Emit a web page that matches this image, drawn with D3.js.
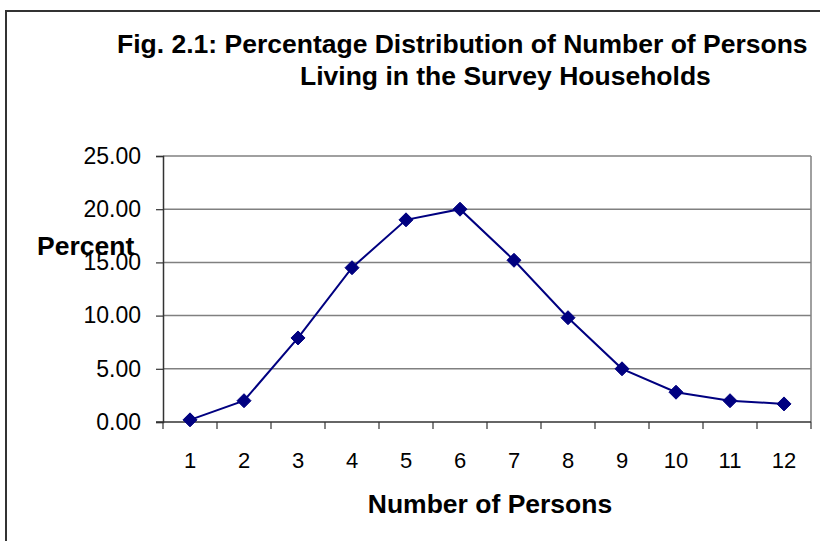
<!DOCTYPE html>
<html>
<head>
<meta charset="utf-8">
<script src="https://cdn.jsdelivr.net/npm/d3@7"></script>
<style>
  html, body { margin: 0; padding: 0; background: #fff; }
  svg { display: block; font-family: Arial, "Liberation Sans", sans-serif; }
</style>
</head>
<body>
<svg id="chart" width="820" height="541"></svg>
<script>
// Household size categories and share of households (%)
const persons = ["1", "2", "3", "4", "5", "6", "7", "8", "9", "10", "11", "12"];
const percent = [0.2, 2.0, 7.9, 14.5, 19.0, 20.0, 15.2, 9.8, 5.0, 2.8, 2.0, 1.7];
const yTicks = [0, 5, 10, 15, 20, 25];

const titleLines = [
  "Fig. 2.1: Percentage Distribution of Number of Persons",
  "Living in the Survey Households"
];

const svg = d3.select("#chart");

// outer chart frame
svg.append("rect")
  .attr("x", 6).attr("y", 11)
  .attr("width", 830).attr("height", 560)
  .attr("fill", "none")
  .attr("stroke", "#333")
  .attr("stroke-width", 2);

const plot = { left: 163, right: 811, top: 156, bottom: 422 };

const x = d3.scaleBand()
  .domain(persons)
  .range([plot.left, plot.right])
  .paddingInner(0).paddingOuter(0);

const y = d3.scaleLinear()
  .domain([0, 25])
  .range([plot.bottom, plot.top]);

// horizontal gridlines
svg.append("g")
  .selectAll("line")
  .data(yTicks.filter(d => d > 0))
  .join("line")
  .attr("x1", plot.left).attr("x2", plot.right)
  .attr("y1", d => y(d)).attr("y2", d => y(d))
  .attr("stroke", "#808080")
  .attr("stroke-width", 1.5);

// right edge of plot area
svg.append("line")
  .attr("x1", plot.right).attr("x2", plot.right)
  .attr("y1", plot.top).attr("y2", plot.bottom)
  .attr("stroke", "#808080")
  .attr("stroke-width", 1.5);

// y axis
const yAxis = svg.append("g")
  .attr("transform", `translate(${plot.left},0)`)
  .call(d3.axisLeft(y).tickValues(yTicks).tickFormat(d3.format(".2f")).tickSize(7).tickPadding(15));
yAxis.select(".domain").attr("stroke", "#333").attr("stroke-width", 1.5);
yAxis.selectAll(".tick line").attr("stroke", "#333").attr("stroke-width", 1.2);
yAxis.selectAll("text")
  .attr("font-size", 23)
  .attr("fill", "#000")
  .attr("font-family", "Arial, 'Liberation Sans', sans-serif");

// x axis with ticks on category boundaries
const xAxisG = svg.append("g")
  .attr("transform", `translate(0,${plot.bottom})`);
xAxisG.append("line")
  .attr("x1", plot.left - 7).attr("x2", plot.right)
  .attr("y1", 0).attr("y2", 0)
  .attr("stroke", "#333").attr("stroke-width", 1.5);
const bounds = persons.map(p => x(p)).concat([x(persons[persons.length - 1]) + x.bandwidth()]);
xAxisG.selectAll("line.tk")
  .data(bounds)
  .join("line")
  .attr("class", "tk")
  .attr("x1", d => d).attr("x2", d => d)
  .attr("y1", 0).attr("y2", 7)
  .attr("stroke", "#333").attr("stroke-width", 1.2);
xAxisG.selectAll("text")
  .data(persons)
  .join("text")
  .attr("x", d => x(d) + x.bandwidth() / 2)
  .attr("y", 46)
  .attr("text-anchor", "middle")
  .attr("font-size", 22)
  .attr("fill", "#000")
  .text(d => d);

// data line
const line = d3.line()
  .x((d, i) => x(persons[i]) + x.bandwidth() / 2)
  .y(d => y(d));

svg.append("path")
  .datum(percent)
  .attr("d", line)
  .attr("fill", "none")
  .attr("stroke", "#000080")
  .attr("stroke-width", 2);

// diamond markers
svg.append("g")
  .selectAll("path")
  .data(percent)
  .join("path")
  .attr("transform", (d, i) => `translate(${x(persons[i]) + x.bandwidth() / 2},${y(d)})`)
  .attr("d", "M0,-7L7,0L0,7L-7,0Z")
  .attr("fill", "#000080")
  .attr("stroke", "#000080")
  .attr("stroke-width", 1);

// title
svg.append("text")
  .attr("x", 117).attr("y", 53)
  .attr("font-size", 26.5).attr("font-weight", "bold")
  .attr("fill", "#000")
  .text(titleLines[0]);
svg.append("text")
  .attr("x", 300).attr("y", 85)
  .attr("font-size", 26.5).attr("font-weight", "bold")
  .attr("fill", "#000")
  .text(titleLines[1]);

// axis titles
svg.append("text")
  .attr("x", 37).attr("y", 255)
  .attr("font-size", 26.5).attr("font-weight", "bold")
  .attr("fill", "#000")
  .text("Percent");
svg.append("text")
  .attr("x", 490).attr("y", 513)
  .attr("text-anchor", "middle")
  .attr("font-size", 26.5).attr("font-weight", "bold")
  .attr("fill", "#000")
  .text("Number of Persons");
</script>
</body>
</html>
